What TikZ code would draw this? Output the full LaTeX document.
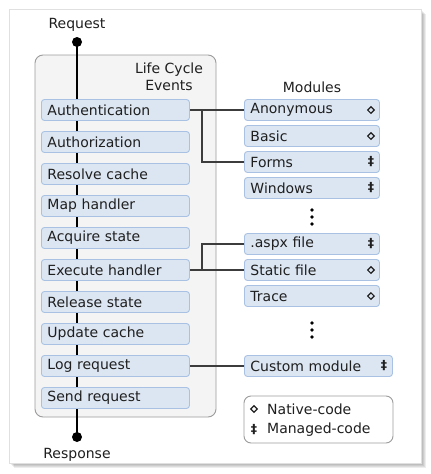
\documentclass[tikz,border=0pt]{standalone}
\usepackage{fontspec}
\setmainfont{DejaVu Sans}
\usetikzlibrary{shapes.geometric}

\definecolor{evfill}{HTML}{DCE6F2}
\definecolor{evline}{HTML}{A9C2E3}
\definecolor{panelfill}{HTML}{F4F4F4}
\definecolor{panelline}{HTML}{9C9C9C}
\definecolor{wire}{HTML}{3C3C3C}

\begin{document}
\begin{tikzpicture}[x=1pt,y=-1pt,
      font=\fontsize{14}{16.5}\selectfont,text=black!88,
      event/.style={draw=evline,fill=evfill,line width=0.9pt,rounded corners=3pt,
        anchor=west,text width=136pt,align=left,inner xsep=6pt,
        minimum height=21pt,inner ysep=0pt},
      module/.style={event,text width=123pt},
      wide/.style={event,text width=136pt},
      native/.style={diamond,draw=black!88,line width=1.2pt,inner sep=0pt,
        minimum width=7pt,minimum height=7pt},
      managed/.style={inner sep=0pt,font=\fontsize{12.5}{14}\bfseries},
      endpoint/.style={circle,fill=black,inner sep=0pt,minimum size=10pt},
      link/.style={draw=wire,line width=1.3pt}]
      \useasboundingbox (0,0) rectangle (431,474);
      % paper and its shadow
      \foreach \s in {1,...,5}
        \fill[black,opacity=0.07] (9+\s,9+\s) rectangle (421+\s,463+\s);
      \fill[white,draw=black!12] (9,9) rectangle (421,463);
      % life cycle panel
      \draw[panelline,fill=panelfill,line width=0.9pt,rounded corners=8pt]
        (35,55) rectangle (216,417);
      \node[align=center,inner sep=0pt] (lce) at (169,77) {Life Cycle\\Events};
      \node[endpoint] (req) at (77,42) {};
      \node[endpoint] (resp) at (77,437) {};
      \node[inner sep=0pt] (reqlbl) at (77,25) {Request};
      \node[inner sep=0pt] (resplbl) at (77,455) {Response};
      \draw[line width=1.4pt] (req.center) -- (resp.center);
      \foreach \name/\txt [count=\i] in {auth/Authentication,authz/Authorization,
          resolve/Resolve cache,map/Map handler,acquire/Acquire state,
          exec/Execute handler,release/Release state,update/Update cache,
          log/Log request,send/Send request}
        \node[event] (\name) at (41,{78+32*\i}) {\txt};
      % modules
      \node[inner sep=0pt] (modlbl) at (312,87) {Modules};
      \node[module] (anon) at (244,110) {Anonymous};
      \node[module] (basic) at (244,136) {Basic};
      \node[module] (forms) at (244,162) {Forms};
      \node[module] (win) at (244,188) {Windows};
      \node[module] (aspx) at (244,244) {.aspx file};
      \node[module] (static) at (244,270) {Static file};
      \node[module] (trace) at (244,296) {Trace};
      \node[wide] (custom) at (244,366) {Custom module};
      \foreach \m in {anon,basic,static,trace}
        \node[native] at ([xshift=-9pt]\m.east) {};
      \foreach \m in {forms,win,aspx,custom}
        \node[managed] at ([xshift=-9pt]\m.east) {‡};
      \foreach \y in {210,217,224,323,330,337}
        \fill (312,\y) circle (1.9pt);
      % connections
      \coordinate (j1) at (202,110);
      \coordinate (j2) at (202,270);
      \draw[link] (auth.east) -- (anon.west);
      \draw[link] (j1) |- (forms.west);
      \draw[link] (exec.east) -- (static.west);
      \draw[link] (j2) |- (aspx.west);
      \draw[link] (log.east) -- (custom.west);
      % legend
      \draw[panelline,fill=white,line width=0.9pt,rounded corners=7pt]
        (244,396) rectangle (393,443);
      \node[native] (natsym) at (254,409) {};
      \node[anchor=west,inner sep=0pt] (nattxt) at (267,409) {Native-code};
      \node[managed] (mansym) at (254,430) {‡};
      \node[anchor=west,inner sep=0pt] (mantxt) at (267,430) {Managed-code};
\end{tikzpicture}
\end{document}
